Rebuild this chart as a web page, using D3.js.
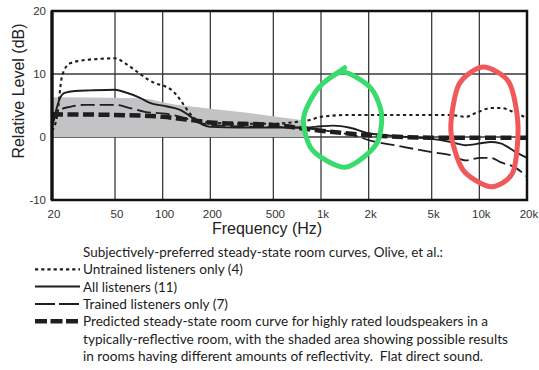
<!DOCTYPE html>
<html><head><meta charset="utf-8">
<script src="https://cdn.jsdelivr.net/npm/d3@7"></script>
<style>html,body{margin:0;padding:0;background:#fff;}svg{display:block;}</style>
</head><body>
<svg id="chart" width="539" height="370"></svg>
<script>
// ---------- data ----------
const xTicks = [20, 50, 100, 200, 500, 1000, 2000, 5000, 10000, 20000];
const xTickLabels = ["20", "50", "100", "200", "500", "1k", "2k", "5k", "10k", "20k"];
const yTicks = [-10, 0, 10, 20];
const yTickLabels = ["-10", "0", "10", "20"];

const untrainedF = [20, 21.5, 23.2, 26, 30, 40, 50, 58, 72, 80, 90, 100, 112, 124, 135, 150, 165, 200, 300, 500, 700, 850, 1000, 1500, 2000, 3200, 5000, 6600, 8200, 9500, 11800, 13600, 17000, 20000];
const untrained  = [1.0, 3.2, 9.8, 11.7, 12.1, 12.4, 12.5, 11.7, 10.0, 9.2, 8.5, 8.2, 7.6, 6.5, 5.2, 3.6, 2.7, 2.3, 2.1, 2.1, 2.4, 2.7, 3.2, 3.5, 3.5, 3.5, 3.5, 3.5, 3.2, 3.8, 4.6, 4.6, 3.8, 3.0];

const allF = [20, 21, 22.5, 24, 28, 35, 50, 58, 72, 83, 104, 129, 155, 172, 200, 300, 500, 800, 1000, 1200, 1500, 2000, 3200, 5000, 6600, 8200, 10200, 11800, 13600, 17000, 20000];
const allListeners = [1.6, 3.8, 6.2, 7.0, 7.3, 7.4, 7.5, 7.1, 6.2, 5.4, 4.9, 4.3, 3.0, 2.2, 1.6, 1.5, 1.5, 1.5, 1.7, 1.8, 1.5, 0.6, 0.1, -0.3, -0.8, -1.3, -1.0, -0.8, -1.0, -2.4, -3.3];

const trainedF = [20, 21, 22.5, 26, 32, 50, 62, 77, 104, 130, 160, 200, 300, 500, 800, 1000, 1300, 1600, 2000, 3200, 5000, 6600, 8200, 10200, 11800, 13600, 17000, 20000];
const trained  = [2.0, 3.2, 4.3, 4.8, 5.1, 5.1, 4.6, 4.0, 3.7, 3.2, 2.5, 1.9, 1.7, 1.6, 1.4, 1.1, 0.7, 0.3, -0.5, -1.5, -2.4, -2.9, -3.7, -3.3, -3.3, -4.0, -4.9, -6.3];

const predictedF = [20, 50, 100, 150, 200, 500, 1000, 2000, 5000, 20000];
const predicted  = [3.6, 3.5, 3.2, 2.7, 2.3, 1.9, 1.0, 0.3, -0.1, -0.1];

const shadeF = [20, 60, 83, 100, 200, 300, 500, 800];
const shadeUpper = [6.3, 6.2, 6.0, 5.5, 4.5, 4.0, 3.3, 2.6];

// hand-drawn annotation loops (frequency, dB)
const greenLoopF = [1370, 2058, 2416, 2214, 1430, 884, 776, 966];
const greenLoopDb = [10.3, 7.8, 3.5, -1.3, -4.8, -2.1, 3.0, 7.8];
const greenHookF = [1084, 1410];
const greenHookDb = [9.0, 11.0];
const redLoopF = [10530, 15380, 17540, 16300, 11830, 7870, 6610, 7420];
const redLoopDb = [11.1, 8.7, 1.9, -5.6, -7.9, -5.2, 1.1, 8.3];

const legendTitle = "Subjectively-preferred steady-state room curves, Olive, et al.:";
const legendLabels = ["Untrained listeners only (4)", "All listeners (11)", "Trained listeners only (7)",
  "Predicted steady-state room curve for highly rated loudspeakers in a"];
const legendExtra = ["typically-reflective room, with the shaded area showing possible results",
  "in rooms having different amounts of reflectivity.  Flat direct sound."];

// ---------- drawing ----------
const svg = d3.select("#chart");
const L = 52, R = 527, T = 11, B = 200;
const x = d3.scaleLog().domain([20, 20000]).range([L, R]);
const y = d3.scaleLinear().domain([-10, 20]).range([B, T]);
const ink = "#1e1e1e";

// grid
const gridX = xTicks.filter(d => d > 20 && d < 20000);
svg.append("g").selectAll("line").data(gridX).join("line")
  .attr("x1", d => x(d)).attr("x2", d => x(d)).attr("y1", T).attr("y2", B)
  .attr("stroke", "#3a3a3a").attr("stroke-width", 1.3);
svg.append("g").selectAll("line").data([0, 10]).join("line")
  .attr("x1", L).attr("x2", R).attr("y1", d => y(d)).attr("y2", d => y(d))
  .attr("stroke", "#3a3a3a").attr("stroke-width", 1.3);

// shaded area
const shade = shadeF.map((f, i) => [f, shadeUpper[i]]);
svg.append("path").datum(shade)
  .attr("d", d3.area().x(d => x(d[0])).y0(y(0)).y1(d => y(d[1])).curve(d3.curveMonotoneX))
  .attr("fill", "#c3c3c5");

// series
const line = d3.line().x(d => x(d[0])).y(d => y(d[1])).curve(d3.curveMonotoneX);
function series(F, V, w, dash) {
  svg.append("path").datum(F.map((f, i) => [f, V[i]]))
    .attr("d", line).attr("fill", "none").attr("stroke", ink)
    .attr("stroke-width", w).attr("stroke-dasharray", dash);
}
series(predictedF, predicted, 4.5, "11,4.5");
series(trainedF, trained, 1.8, "14,5");
series(allF, allListeners, 1.9, null);
series(untrainedF, untrained, 2.1, "3.2,3.2");

// frame
svg.append("rect").attr("x", L).attr("y", T).attr("width", R - L).attr("height", B - T)
  .attr("fill", "none").attr("stroke", "#111").attr("stroke-width", 2.5);
svg.append("line").attr("x1", L).attr("x2", L).attr("y1", T).attr("y2", B)
  .attr("stroke", "#111").attr("stroke-width", 3.2);

// tick labels
const tickFont = "'Liberation Sans', Arial, sans-serif";
svg.append("g").selectAll("text").data(xTicks).join("text")
  .attr("x", d => x(d) + 2).attr("y", 218).attr("text-anchor", "middle")
  .attr("font-family", tickFont).attr("font-size", 11.5).attr("fill", "#333")
  .text((d, i) => xTickLabels[i]);
svg.append("g").selectAll("text").data(yTicks).join("text")
  .attr("x", 46).attr("y", d => y(d) + 4).attr("text-anchor", "end")
  .attr("font-family", tickFont).attr("font-size", 11.5).attr("fill", "#333")
  .text((d, i) => yTickLabels[i]);

// axis titles
svg.append("text").attr("x", 267).attr("y", 234).attr("text-anchor", "middle")
  .attr("font-family", tickFont).attr("font-size", 16).attr("fill", "#222")
  .text("Frequency (Hz)");
svg.append("text").attr("transform", "translate(24,91) rotate(-90)").attr("text-anchor", "middle")
  .attr("font-family", tickFont).attr("font-size", 16).attr("fill", "#222")
  .text("Relative Level (dB)");

// annotations
const loop = d3.line().x(d => x(d[0])).y(d => y(d[1])).curve(d3.curveCardinalClosed.tension(0.2));
svg.append("path").datum(greenLoopF.map((f, i) => [f, greenLoopDb[i]]))
  .attr("d", loop).attr("fill", "none").attr("stroke", "#37dc6c").attr("stroke-width", 5)
  .attr("stroke-linecap", "round");
svg.append("path").datum(greenHookF.map((f, i) => [f, greenHookDb[i]]))
  .attr("d", d3.line().x(d => x(d[0])).y(d => y(d[1]))).attr("fill", "none")
  .attr("stroke", "#37dc6c").attr("stroke-width", 5).attr("stroke-linecap", "round");
svg.append("path").datum(redLoopF.map((f, i) => [f, redLoopDb[i]]))
  .attr("d", loop).attr("fill", "none").attr("stroke", "#f0585a").attr("stroke-width", 5)
  .attr("stroke-linecap", "round");

// legend
const legFont = "Lato, 'Open Sans', sans-serif";
const legX = 83, legY0 = 257, legDY = 17.3;
const legWidths = [360, 160, 94, 145, 405, 425, 400];
const allLegend = [legendTitle, ...legendLabels, ...legendExtra];
svg.append("g").selectAll("text").data(allLegend).join("text")
  .attr("x", legX).attr("y", (d, i) => legY0 + i * legDY)
  .attr("font-family", legFont).attr("font-size", 14).attr("fill", "#1c1c1c")
  .attr("textLength", (d, i) => legWidths[i]).attr("lengthAdjust", "spacingAndGlyphs")
  .style("white-space", "pre")
  .text(d => d);
const legStyles = [
  {w: 2.2, dash: "3.2,3"},
  {w: 2.0, dash: null},
  {w: 2.0, dash: "20,4"},
  {w: 4.5, dash: "12,3.5"}
];
svg.append("g").selectAll("line").data(legStyles).join("line")
  .attr("x1", 35).attr("x2", 80)
  .attr("y1", (d, i) => legY0 + (i + 1) * legDY - 5).attr("y2", (d, i) => legY0 + (i + 1) * legDY - 5)
  .attr("stroke", ink).attr("stroke-width", d => d.w).attr("stroke-dasharray", d => d.dash);
</script>
</body></html>
